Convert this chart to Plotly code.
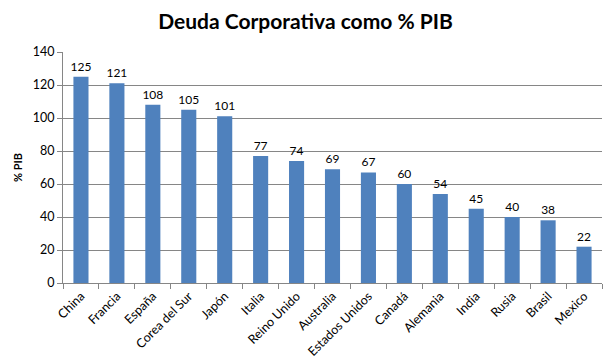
import plotly.graph_objects as go

paises = ["China", "Francia", "España", "Corea del Sur", "Japón", "Italia", "Reino Unido",
          "Australia", "Estados Unidos", "Canadá", "Alemania", "India", "Rusia", "Brasil", "Mexico"]
deuda = [125, 121, 108, 105, 101, 77, 74, 69, 67, 60, 54, 45, 40, 38, 22]
y_ticks = [0, 20, 40, 60, 80, 100, 120, 140]

fig = go.Figure(go.Bar(
    x=paises, y=deuda,
    marker=dict(color="#4F81BD", line=dict(width=0)),
    text=[str(v) for v in deuda], textposition="outside", constraintext="none",
    textfont=dict(family="Lato, Open Sans, sans-serif", size=12, color="#000000"),
    cliponaxis=False, hoverinfo="skip",
))

fig.update_layout(
    width=611, height=363,
    margin=dict(l=63, r=9, t=52, b=80),
    paper_bgcolor="white", plot_bgcolor="white",
    bargap=0.58,
    showlegend=False,
    title=dict(text="<b>Deuda Corporativa como % PIB</b>", x=0.5, xanchor="center",
               y=0.94, yanchor="middle",
               font=dict(family="Lato, Open Sans, sans-serif", size=21, color="#000000")),
    font=dict(family="Lato, Open Sans, sans-serif", size=11, color="#000000"),
)

fig.update_xaxes(
    type="category", tickangle=-45, tickson="boundaries", ticks="outside", ticklen=5,
    tickcolor="#868686", showline=True, linecolor="#868686", linewidth=1,
    showgrid=False, tickfont=dict(size=12.5), automargin=False,
)
fig.update_yaxes(
    range=[0, 140], tickvals=y_ticks, ticks="outside", ticklen=5, tickcolor="#868686",
    showline=True, linecolor="#868686", linewidth=1,
    showgrid=True, gridcolor="#868686", gridwidth=1, zeroline=False,
    tickfont=dict(size=12.5), automargin=False,
    title=dict(text="<b>% PIB</b>", font=dict(size=11), standoff=7),
)

fig.write_html("out.html", config={"displayModeBar": False},
               post_script="document.body.style.margin='0';document.body.style.overflow='hidden';")
